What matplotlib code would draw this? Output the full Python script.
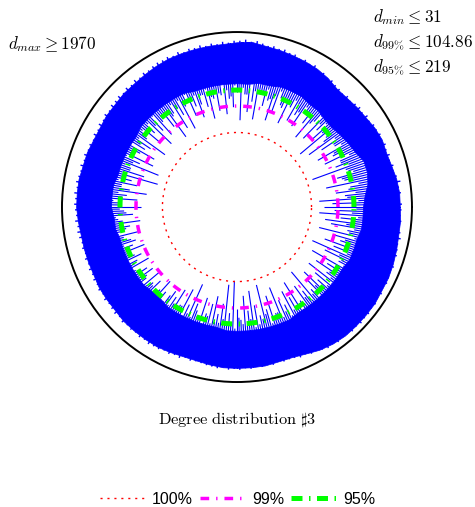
import numpy as np
import matplotlib
matplotlib.use("Agg")
import matplotlib.pyplot as plt

plt.rcParams['mathtext.fontset'] = 'cm'

# --- DATEN ---
D_MAX = 1970
D_MIN = 31
D_99 = 104.86
D_95 = 219

# dichter Ring (ln Grad), alle 5 Grad ab 0 (Osten), gegen Uhrzeigersinn
ring_angles = np.arange(0, 360, 5)
log_deg_outer = [7.50, 7.50, 7.45, 7.36, 7.31, 7.36, 7.31, 7.22, 7.18, 7.13,
                 7.13, 7.27, 7.36, 7.41, 7.45, 7.50, 7.54, 7.64, 7.59, 7.54,
                 7.54, 7.54, 7.54, 7.54, 7.50, 7.45, 7.41, 7.41, 7.36, 7.36,
                 7.31, 7.31, 7.36, 7.36, 7.41, 7.41, 7.41, 7.36, 7.31, 7.31,
                 7.31, 7.31, 7.36, 7.36, 7.36, 7.41, 7.41, 7.41, 7.41, 7.36,
                 7.31, 7.31, 7.36, 7.41, 7.41, 7.41, 7.41, 7.36, 7.36, 7.45,
                 7.59, 7.68, 7.73, 7.73, 7.73, 7.73, 7.68, 7.68, 7.64, 7.59,
                 7.54, 7.54]
log_deg_solid = [5.8, 5.9, 6.1, 6.2, 6.2, 6.0, 5.9, 5.8, 5.7, 5.7,
                 5.8, 5.8, 5.9, 5.9, 5.9, 5.8, 5.8, 5.7, 5.7, 5.7,
                 5.7, 5.7, 5.7, 5.8, 5.8, 5.8, 5.8, 5.8, 5.8, 5.7,
                 5.7, 5.7, 5.7, 5.7, 5.8, 5.8, 5.8, 5.7, 5.7, 5.6,
                 5.6, 5.6, 5.6, 5.6, 5.6, 5.5, 5.5, 5.6, 5.6, 5.6,
                 5.6, 5.6, 5.6, 5.7, 5.7, 5.7, 5.7, 5.7, 5.7, 5.7,
                 5.6, 5.6, 5.6, 5.6, 5.6, 5.6, 5.6, 5.7, 5.7, 5.7,
                 5.8, 5.8]

# Spitzen am Aussenrand, ungerade Winkel 1..359
hair_angles = np.arange(1, 360, 2)
log_deg_hair = [7.60, 7.48, 7.58, 7.52, 7.62, 7.50, 7.40, 7.46, 7.36, 7.44,
                7.38, 7.44, 7.32, 7.42, 7.36, 7.37, 7.28, 7.34, 7.24, 7.30,
                7.24, 7.16, 7.22, 7.14, 7.20, 7.22, 7.30, 7.24, 7.36, 7.30,
                7.46, 7.40, 7.48, 7.42, 7.52, 7.50, 7.58, 7.54, 7.60, 7.56,
                7.62, 7.70, 7.64, 7.72, 7.66, 7.66, 7.58, 7.64, 7.56, 7.62,
                7.56, 7.64, 7.58, 7.62, 7.54, 7.64, 7.56, 7.62, 7.58, 7.60,
                7.56, 7.50, 7.54, 7.46, 7.52, 7.44, 7.50, 7.42, 7.48, 7.44,
                7.46, 7.38, 7.44, 7.36, 7.42, 7.34, 7.40, 7.32, 7.38, 7.36,
                7.44, 7.38, 7.46, 7.40, 7.44, 7.50, 7.44, 7.52, 7.46, 7.50,
                7.46, 7.42, 7.48, 7.40, 7.44, 7.40, 7.34, 7.38, 7.32, 7.40,
                7.34, 7.40, 7.36, 7.42, 7.38, 7.44, 7.38, 7.46, 7.40, 7.44,
                7.48, 7.42, 7.50, 7.44, 7.48, 7.44, 7.50, 7.46, 7.52, 7.48,
                7.48, 7.42, 7.46, 7.40, 7.44, 7.34, 7.40, 7.36, 7.38, 7.42,
                7.44, 7.48, 7.42, 7.50, 7.46, 7.50, 7.44, 7.48, 7.42, 7.46,
                7.40, 7.46, 7.38, 7.44, 7.42, 7.44, 7.52, 7.48, 7.58, 7.54,
                7.66, 7.74, 7.70, 7.78, 7.72, 7.76, 7.82, 7.78, 7.84, 7.80,
                7.82, 7.76, 7.80, 7.74, 7.78, 7.70, 7.76, 7.72, 7.68, 7.74,
                7.64, 7.70, 7.66, 7.62, 7.68, 7.62, 7.56, 7.60, 7.54, 7.58]

# Knoten mit kleinem Grad (Zacken nach innen), gerade Winkel
spike_angles = np.arange(0, 360, 2)
log_deg_spikes = [4.0, 4.4, 3.8, 5.0, 4.6, 5.3, 4.2, 5.1, 4.8, 5.4,
                  3.7, 4.9, 5.2, 4.5, 5.0, 4.3, 5.3, 4.7, 4.1, 5.2,
                  3.8, 4.6, 5.1, 4.4, 5.3, 4.2, 4.9, 5.4, 4.5, 5.0,
                  4.6, 5.2, 4.3, 5.0, 5.4, 4.7, 4.2, 5.1, 4.8, 5.3,
                  4.1, 4.9, 4.4, 5.2, 4.0, 5.3, 4.6, 5.0, 4.3, 5.2,
                  4.5, 5.1, 4.2, 4.8, 5.4, 4.4, 5.0, 4.6, 5.3, 4.1,
                  4.9, 4.3, 5.2, 4.0, 4.7, 5.3, 4.5, 4.9, 4.2, 5.1,
                  4.6, 5.3, 4.1, 4.8, 5.0, 4.4, 5.4, 4.3, 4.9, 3.9,
                  5.2, 4.5, 3.8, 5.0, 4.7, 5.4, 4.2, 5.1, 4.6, 5.3,
                  4.4, 5.2, 4.8, 5.5, 4.5, 5.0, 5.3, 4.7, 5.4, 4.9,
                  5.1, 4.6, 5.4, 4.9, 5.2, 4.7, 5.5, 5.0, 4.8, 5.3,
                  4.7, 5.2, 4.9, 5.4, 4.6, 5.1, 5.5, 4.8, 5.0, 4.5,
                  5.2, 4.3, 5.0, 3.9, 4.8, 5.3, 4.4, 5.1, 4.6, 4.2,
                  5.0, 4.5, 3.6, 4.9, 3.4, 4.7, 5.2, 4.1, 4.8, 3.9,
                  4.6, 5.1, 3.7, 4.9, 4.3, 5.2, 4.0, 4.7, 5.0, 4.4,
                  4.8, 4.1, 5.2, 4.5, 4.9, 3.9, 5.1, 4.6, 4.3, 5.0,
                  4.7, 4.2, 5.1, 4.4, 4.9, 4.0, 5.3, 4.5, 3.8, 4.8,
                  4.3, 5.0, 4.6, 3.9, 5.2, 4.4, 4.1, 4.8, 3.8, 4.5]
# kuerzere Zacken, ungerade Winkel
short_angles = np.arange(1, 360, 2)
log_deg_short = [5.3, 5.6, 5.1, 5.5, 5.2, 5.7, 5.4, 5.0, 5.6, 5.3,
                 5.5, 5.2, 5.7, 5.4, 5.1, 5.6, 5.3, 5.5, 5.0, 5.4,
                 5.2, 5.6, 5.4, 5.7, 5.1, 5.5, 5.3, 5.6, 5.2, 5.5,
                 5.6, 5.3, 5.5, 5.1, 5.7, 5.4, 5.2, 5.6, 5.3, 5.5,
                 5.4, 5.7, 5.2, 5.5, 5.3, 5.6, 5.1, 5.4, 5.7, 5.3,
                 5.5, 5.2, 5.6, 5.4, 5.0, 5.5, 5.3, 5.7, 5.2, 5.6,
                 5.3, 5.6, 5.1, 5.5, 5.4, 5.2, 5.7, 5.3, 5.6, 5.4,
                 5.6, 5.2, 5.5, 5.3, 5.7, 5.1, 5.4, 5.6, 5.2, 5.5,
                 5.2, 5.5, 5.3, 5.6, 5.4, 5.0, 5.5, 5.3, 5.7, 5.4,
                 5.4, 5.1, 5.6, 5.3, 5.5, 5.2, 5.6, 5.4, 5.1, 5.5,
                 5.3, 5.5, 5.2, 5.6, 5.4, 5.7, 5.3, 5.5, 5.2, 5.6,
                 5.5, 5.3, 5.6, 5.2, 5.4, 5.6, 5.1, 5.5, 5.3, 5.4,
                 5.2, 5.6, 5.4, 5.5, 5.1, 5.3, 5.6, 5.2, 5.5, 5.4,
                 5.4, 5.2, 5.5, 5.3, 5.6, 5.1, 5.4, 5.5, 5.2, 5.6,
                 5.5, 5.3, 5.1, 5.6, 5.4, 5.2, 5.5, 5.3, 5.6, 5.4,
                 5.3, 5.6, 5.4, 5.2, 5.5, 5.3, 5.6, 5.1, 5.4, 5.5,
                 5.6, 5.4, 5.2, 5.5, 5.3, 5.6, 5.4, 5.2, 5.5, 5.3,
                 5.4, 5.2, 5.6, 5.3, 5.5, 5.1, 5.4, 5.6, 5.3, 5.5]

levels = [D_MIN, D_99, D_95]
level_labels = ['100%', '99%', '95%']

# --- PLOT ---
fig = plt.figure(figsize=(4.75, 5.07), dpi=100)
ax = fig.add_axes([0.1305, 0.2465, 0.7368, 0.6903], projection='polar')

theta_ring = np.deg2rad(np.append(ring_angles, 360))
outer = np.append(log_deg_outer, log_deg_outer[0])
inner = np.append(log_deg_solid, log_deg_solid[0])
ax.fill_between(theta_ring, inner, outer, color='blue', lw=0.5, zorder=1)

ring_mid = min(log_deg_outer) - 0.3
ax.vlines(np.deg2rad(hair_angles), ring_mid, log_deg_hair, colors='blue', lw=1.0, zorder=1)
ax.vlines(np.deg2rad(spike_angles), log_deg_spikes, ring_mid, colors='blue', lw=0.8, zorder=1)
ax.vlines(np.deg2rad(short_angles), log_deg_short, ring_mid, colors='blue', lw=0.8, zorder=1)

t = np.linspace(0, 2 * np.pi, 721)
ax.plot(t, np.full_like(t, np.log(levels[0])), color='red', lw=1.0,
        dashes=(1.5, 3.5), label=level_labels[0], zorder=3)
ax.plot(t, np.full_like(t, np.log(levels[1])), color='magenta', lw=2.5,
        dashes=(2.5, 2.0, 0.4, 2.0), label=level_labels[1], zorder=3)
ax.plot(t, np.full_like(t, np.log(levels[2])), color='#00ff00', lw=3.6,
        dashes=(2.2, 1.3, 0.3, 1.3), label=level_labels[2], zorder=3)

ax.set_ylim(0, 8.06)
ax.set_xticks([])
ax.set_yticks([])
ax.grid(False)
ax.spines['polar'].set_linewidth(1.4)

fs = 12.3
fig.text(0.017, 0.913, r'$d_{max} \geq %d$' % D_MAX, fontsize=fs, va='center')
fig.text(0.785, 0.966, r'$d_{min} \leq %d$' % D_MIN, fontsize=fs, va='center')
fig.text(0.785, 0.915, r'$d_{99\%%} \leq %.2f$' % D_99, fontsize=fs, va='center')
fig.text(0.785, 0.866, r'$d_{95\%%} \leq %d$' % D_95, fontsize=fs, va='center')

fig.text(0.5, 0.172, r'$\mathrm{Degree\ distribution\ \sharp 3}$', fontsize=11.8,
         ha='center', va='center')

handles, labels = ax.get_legend_handles_labels()
fig.legend(handles, labels, loc='center', bbox_to_anchor=(0.5, 0.015), ncol=3,
           frameon=False, handlelength=2.9, handletextpad=0.35, columnspacing=0.45,
           prop={'family': 'Liberation Sans', 'size': 11.5})

fig.savefig('out.png', dpi=100)
